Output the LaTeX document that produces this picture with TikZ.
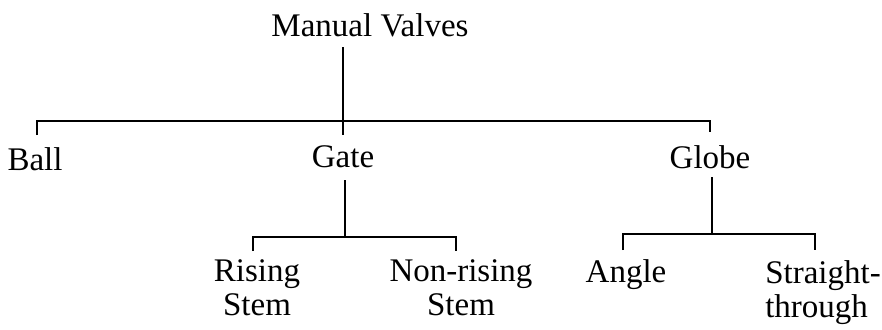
\documentclass[tikz,border=0pt]{standalone}
\usepackage{fontspec}
\setmainfont{Liberation Serif}
\begin{document}
\begin{tikzpicture}[x=0.75pt,y=-0.75pt,
  lbl/.style={inner sep=0pt,font=\fontsize{24.75pt}{25.5pt}\selectfont},
  conn/.style={line width=1.5pt,line cap=butt,line join=miter}]
\useasboundingbox (0,0) rectangle (882,329);
% nodes
\node[lbl,anchor=base] (title) at (370,36) {Manual Valves};
\node[lbl,anchor=base] (ball) at (35,170) {Ball};
\node[lbl,anchor=base] (gate) at (343,167) {Gate};
\node[lbl,anchor=base] (globe) at (710,168) {Globe};
\node[lbl,anchor=north,align=center] (rising) at (257,259) {Rising\\Stem};
\node[lbl,anchor=north,align=center] (nonrising) at (461,259) {Non-rising\\Stem};
\node[lbl,anchor=north] (angle) at (626,259) {Angle};
\node[lbl,anchor=north west,align=left] (straight) at (765,260) {Straight-\\through};
% junction coordinates
\coordinate (t0) at (343,47);
\coordinate (j1) at (343,121);
\coordinate (tb) at (37,121);
\coordinate (tbe) at (37,135);
\coordinate (tg) at (343,135);
\coordinate (tgl) at (710,121);
\coordinate (tgle) at (710,132);
\coordinate (g0) at (345,180);
\coordinate (g1) at (345,237);
\coordinate (gr) at (253,237);
\coordinate (gre) at (253,251);
\coordinate (gn) at (456,237);
\coordinate (gne) at (456,251);
\coordinate (h0) at (712,177);
\coordinate (h1) at (712,234);
\coordinate (ha) at (623,234);
\coordinate (hae) at (623,250);
\coordinate (hs) at (815,234);
\coordinate (hse) at (815,250);
% connectors
\draw[conn] (t0) -- (tg);
\draw[conn] (tbe) -- (tb) -- (tgl) -- (tgle);
\draw[conn] (g0) -- (g1);
\draw[conn] (gre) -- (gr) -- (gn) -- (gne);
\draw[conn] (h0) -- (h1);
\draw[conn] (hae) -- (ha) -- (hs) -- (hse);
\end{tikzpicture}
\end{document}
